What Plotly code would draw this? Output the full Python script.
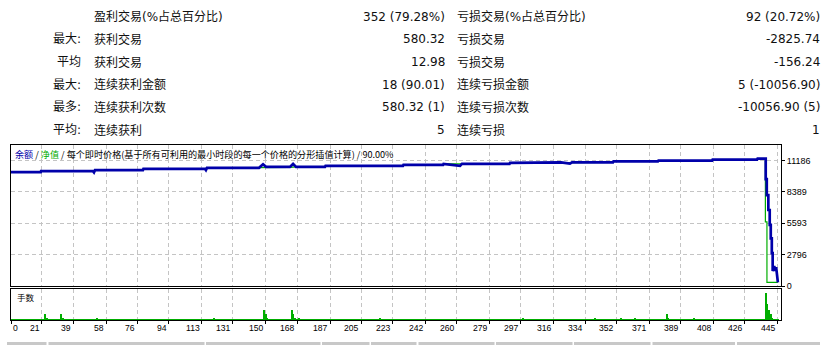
import plotly.graph_objects as go

# ---------------- data ----------------
ROW_PREFIX = ["", "最大:", "平均", "最大:", "最多:", "平均:"]
WIN_LABELS = ["盈利交易(%占总百分比)", "获利交易", "获利交易", "连续获利金额", "连续获利次数", "连续获利"]
WIN_VALUES = ["352 (79.28%)", "580.32", "12.98", "18 (90.01)", "580.32 (1)", "5"]
LOSS_LABELS = ["亏损交易(%占总百分比)", "亏损交易", "亏损交易", "连续亏损金额", "连续亏损次数", "连续亏损"]
LOSS_VALUES = ["92 (20.72%)", "-2825.74", "-156.24", "5 (-10056.90)", "-10056.90 (5)", "1"]

# balance curve (trade number, balance)
BAL_X = [3.2, 20.3, 20.5, 50.4, 51.0, 51.6, 79.2, 79.5, 115.0, 115.5, 116.1, 146.1,
         148.4, 150.1, 163.9, 165.7, 167.4, 184.1, 184.4, 229.0, 229.3, 252.1, 252.4,
         261.9, 263.0, 290.4, 290.7, 319.5, 320.1, 325.2, 326.4, 350.0, 350.3, 375.9,
         376.2, 407.1, 407.4, 433.0, 433.3, 438.0,
         438.0, 438.6, 438.6, 439.5, 439.5, 440.3, 440.3, 440.9, 440.9, 441.5, 441.5,
         442.0, 442.0, 442.9, 443.5, 444.0, 444.5, 445.0]
BAL_Y = [10133, 10133, 10221, 10221, 10107, 10309, 10309, 10432, 10432, 10326, 10519, 10519,
         10835, 10607, 10607, 10870, 10607, 10607, 10695, 10695, 10782, 10782, 10870,
         10695, 10870, 10870, 10958, 10958, 11010, 10896, 11010, 11010, 11098, 11098,
         11159, 11159, 11247, 11247, 11335, 11335,
         9520, 9520, 8091, 8091, 6772, 6772, 5457, 5457, 4256, 4256, 2937,
         2937, 1341, 1780, 1341, 1700, 1100, 330]

# equity curve (trade number, equity)
EQ_X = [3.2, 20.3, 20.5, 50.4, 51.6, 79.2, 79.5, 115.0, 116.1, 146.1, 150.1, 163.9,
        167.4, 184.1, 184.4, 229.0, 229.3, 252.1, 252.4, 290.4, 290.7, 319.5, 320.1,
        350.0, 350.3, 375.9, 376.2, 407.1, 407.4, 433.0, 433.3, 437.8,
        437.8, 438.7, 438.7, 445.0]
EQ_Y = [10133, 10133, 10221, 10221, 10309, 10309, 10432, 10432, 10519, 10519, 10560, 10560,
        10607, 10607, 10695, 10695, 10782, 10782, 10870, 10870, 10958, 10958, 11010,
        11010, 11098, 11098, 11159, 11159, 11247, 11247, 11335, 11335,
        5724, 5724, 330, 330]

# lots per trade: all small trades 0.01, larger ones listed
TRADE_NO = list(range(4, 446))
LOT_SPIKES = {23: 0.03, 24: 0.015, 32: 0.03, 33: 0.015, 53: 0.015, 120: 0.015,
              149: 0.05, 150: 0.03, 151: 0.015, 165: 0.05, 166: 0.03, 167: 0.015, 169: 0.015,
              216: 0.015, 298: 0.015, 340: 0.015, 355: 0.015, 363: 0.015, 381: 0.03, 382: 0.015,
              397: 0.015, 438: 0.13, 439: 0.08, 440: 0.05, 441: 0.03, 442: 0.015}
LOTS = [LOT_SPIKES.get(t, 0.01) for t in TRADE_NO]

Y_TICKS = [0, 2796, 5593, 8389, 11186]
X_TICK_LABELS = [0, 21, 39, 58, 76, 94, 113, 131, 150, 168, 187, 205, 223, 242, 260,
                 279, 297, 316, 334, 352, 371, 389, 408, 426, 445]

LEGEND_PARTS = ["余额", "净值", "每个即时价格(基于所有可利用的最小时段的每一个价格的分形插值计算)", "90.00%"]

# ---------------- layout helpers ----------------
W, H = 837, 350
X_MIN, X_MAX = 3.2, 446.8
Y_MAX = 12560
VOL_MAX = 0.15

def px(x):
    return x / W

def py(y):
    return 1 - y / H

BLUE = "#0000aa"
GREEN = "#00ad00"
GRID = "#c4c4c4"
CJK = "DejaVu Sans, Noto Sans CJK SC"
SMALL = "Noto Sans CJK SC"

fig = go.Figure()

fig.add_trace(go.Scatter(x=EQ_X, y=EQ_Y, mode="lines", line=dict(color=GREEN, width=1.2),
                         xaxis="x", yaxis="y", hoverinfo="skip"))
fig.add_trace(go.Scatter(x=BAL_X, y=BAL_Y, mode="lines", line=dict(color=BLUE, width=2.7),
                         xaxis="x", yaxis="y", hoverinfo="skip"))
fig.add_trace(go.Bar(x=TRADE_NO, y=LOTS, width=0.8, marker=dict(color=GREEN, line=dict(width=0)),
                     xaxis="x2", yaxis="y2", hoverinfo="skip"))

tick_pos = [max(v, X_MIN) for v in X_TICK_LABELS]

common_x = dict(range=[X_MIN, X_MAX], tickvals=tick_pos, showticklabels=False,
                showgrid=True, gridcolor=GRID, griddash="4px,3px", gridwidth=1,
                showline=True, mirror=True, linecolor="black", linewidth=1, zeroline=False,
                domain=[px(11), px(781)], fixedrange=True)

fig.update_layout(
    width=W, height=H, margin=dict(l=0, r=0, t=0, b=0),
    paper_bgcolor="white", plot_bgcolor="white", showlegend=False, bargap=0,
    xaxis=dict(anchor="y", ticks="", **common_x),
    xaxis2=dict(anchor="y2", ticks="outside", ticklen=3, tickcolor="black", **common_x),
    yaxis=dict(domain=[py(290.3), py(147)], range=[0, Y_MAX], anchor="x",
               tickvals=Y_TICKS, ticktext=[str(v) for v in Y_TICKS], side="right",
               ticks="outside", ticklen=3, tickcolor="black",
               tickfont=dict(family="Liberation Sans, Arial", size=9, color="black"),
               showgrid=True, gridcolor=GRID, griddash="4px,3px", gridwidth=1,
               showline=True, mirror=True, linecolor="black", linewidth=1, zeroline=False),
    yaxis2=dict(domain=[py(325), py(292.7)], range=[0, VOL_MAX], anchor="x2",
                showticklabels=False, showgrid=False, ticks="",
                showline=True, mirror=True, linecolor="black", linewidth=1, zeroline=False),
)

ann = []
# stats table
for i in range(6):
    y = py(17 + 23 * i)
    if ROW_PREFIX[i]:
        ann.append(dict(x=px(83), y=y, text=ROW_PREFIX[i], xanchor="right"))
    ann.append(dict(x=px(91.5), y=y, text=WIN_LABELS[i], xanchor="left"))
    ann.append(dict(x=px(446.5), y=y, text=WIN_VALUES[i], xanchor="right"))
    ann.append(dict(x=px(455), y=y, text=LOSS_LABELS[i], xanchor="left"))
    ann.append(dict(x=px(821.5), y=y, text=LOSS_VALUES[i], xanchor="right"))
for a in ann:
    a.update(xref="paper", yref="paper", yanchor="middle", showarrow=False,
             font=dict(family=CJK, size=12, color="#101010"))

legend_text = (f"<span style='color:{BLUE}'>{LEGEND_PARTS[0]}</span> / "
               f"<span style='color:{GREEN}'>{LEGEND_PARTS[1]}</span> / "
               f"{LEGEND_PARTS[2]} / {LEGEND_PARTS[3]}")
ann.append(dict(x=px(13), y=py(156), xref="paper", yref="paper", text=legend_text,
                xanchor="left", yanchor="middle", showarrow=False,
                font=dict(family=SMALL, size=9.1, color="black")))
ann.append(dict(x=px(14.5), y=py(301.5), xref="paper", yref="paper", text="手数",
                xanchor="left", yanchor="middle", showarrow=False,
                font=dict(family=SMALL, size=8.5, color="black")))

for pos, lab in zip(tick_pos, X_TICK_LABELS):
    ann.append(dict(x=pos, xref="x2", y=py(333), yref="paper", text=str(lab),
                    xanchor="left" if lab == 0 else "right", yanchor="middle",
                    showarrow=False, font=dict(family="Liberation Sans, Arial", size=8.6, color="black")))

fig.update_layout(annotations=ann)

# grey header strip of the next table at the bottom edge
BOTTOM_CELLS = [(7, 46.5), (48.5, 204.5), (206, 320.5), (322, 369.5), (371, 416.5),
                (418.5, 494.5), (496, 572.5), (574, 650.5), (652.5, 735), (737, 820)]
fig.update_layout(shapes=[dict(type="rect", xref="paper", yref="paper",
                               x0=px(a), x1=px(b), y0=py(350), y1=py(347),
                               fillcolor="#c8c8c8", line=dict(width=0), layer="below")
                          for a, b in BOTTOM_CELLS])

fig.write_html("out.html")
